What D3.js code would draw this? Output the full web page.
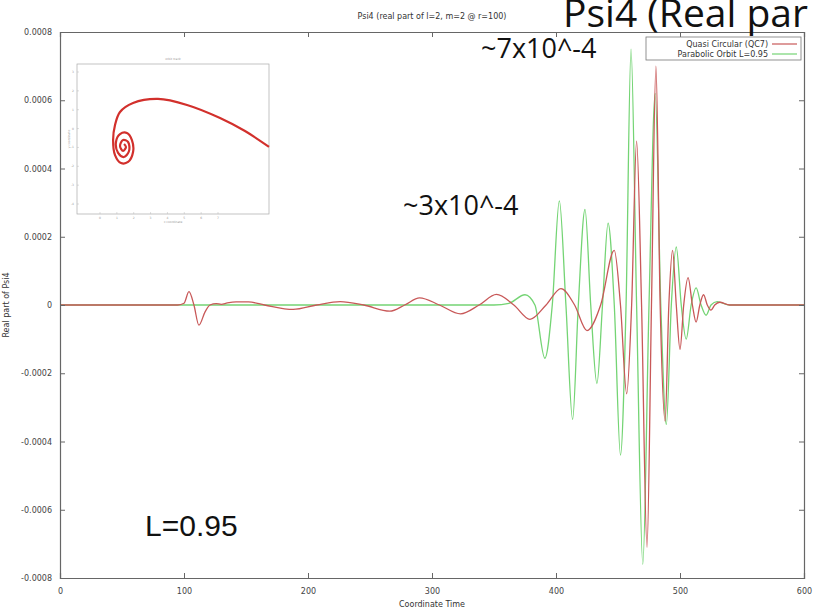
<!DOCTYPE html>
<html>
<head>
<meta charset="utf-8">
<script src="https://cdn.jsdelivr.net/npm/d3@7"></script>
<style>
  body { margin: 0; background: #fff; }
  text { font-family: "DejaVu Sans", sans-serif; }
</style>
</head>
<body>
<div id="chart"></div>
<script>
// ticks
var xTicks = [0, 100, 200, 300, 400, 500, 600];
var yTicks = [-0.0008, -0.0006, -0.0004, -0.0002, 0, 0.0002, 0.0004, 0.0006, 0.0008];

// Quasi Circular (QC7) - extrema and zero crossings
var redT = [0, 95, 100, 104, 108, 112, 117, 121, 126, 130, 135, 142, 152, 165, 188, 207, 226, 245, 266, 278, 290, 306, 323, 338, 352, 366, 379, 392, 404, 415, 425, 436, 447, 452, 457, 461, 465, 469, 473.4, 477, 480.6, 484, 488, 491, 494, 497, 500, 503, 506.5, 510, 513, 516, 519, 522, 525, 528, 532, 540, 600];
var redV = [0, 0, 0.000005, 0.000039, 0, -0.000059, -0.00002, 0, 0.000004, 0.000002, 0.000006, 0.000009, 0.000009, 0, -0.000013, 0, 0.00001, 0, -0.000018, 0, 0.000021, 0, -0.000026, 0, 0.000031, 0, -0.000042, 0, 0.000048, 0, -0.000075, 0, 0.00016, 0, -0.00026, 0, 0.00048, 0, -0.00071, 0, 0.0007, 0, -0.00034, 0, 0.00016, 0, -0.00013, 0, 0.00008, 0, -0.00005, 0, 0.00003, 0, -0.000015, 0, 0.000008, 0, 0];

// Parabolic Orbit L=0.95
var greenT = [0, 350, 362, 375, 383, 391, 397, 402.7, 408, 413.4, 418, 423.4, 428, 433, 437.5, 442, 447, 452, 456.5, 460.5, 465, 470, 475, 480, 484.5, 489, 493, 497, 501, 505, 509, 513, 517, 521, 525, 530, 540, 600];
var greenV = [0, 0, 0.000005, 0.00003, 0, -0.000156, 0, 0.000305, 0, -0.000335, 0, 0.00028, 0, -0.00023, 0, 0.00024, 0, -0.00044, 0, 0.00075, 0, -0.00076, 0, 0.00062, 0, -0.00035, 0, 0.00017, 0, -0.0001, 0, 0.00005, 0, -0.00003, 0, 0.00001, 0, 0];

// inset: orbit track (arbitrary units 0..100)
var orbitX = [100, 87.5, 74.5, 57.3, 42.2, 29.2, 22.4, 19.8, 18.8, 19.8, 22.9, 26.6, 29.2, 28.6, 26, 22.4, 20.3, 21.4, 24.5, 27.1, 26.6, 24, 22.4, 24, 25.5, 24.5];
var orbitY = [44.7, 55.3, 64, 72.7, 76.7, 74, 68, 59.3, 49.3, 39.3, 34, 34.7, 41.3, 49.3, 54, 53.3, 48, 40.7, 38, 42, 48, 49.3, 45.3, 42, 44.7, 46.7];
var insetTicksX = [0, 1, 2, 3, 4, 5, 6, 7];
var insetTicksY = [-4, -3, -2, -1, 0, 1, 2, 3];

var series = [
    { name: 'Quasi Circular (QC7)', t: redT, v: redV, color: '#c85858' },
    { name: 'Parabolic Orbit L=0.95', t: greenT, v: greenV, color: '#74d474' }
];

var W = 817, H = 612;
var pad = { left: 60, right: 13, top: 32, bottom: 34 };

var svg = d3.select('#chart').append('svg')
    .attr('width', W)
    .attr('height', H);

var x = d3.scaleLinear().domain([0, 600]).range([pad.left, W - pad.right]);
var y = d3.scaleLinear().domain([-0.0008, 0.0008]).range([H - pad.bottom, pad.top]);

var fmtY = function (d) { return d === 0 ? '0' : d.toFixed(4); };

// curves
var line = d3.line()
    .x(function (d) { return x(d[0]); })
    .y(function (d) { return y(d[1]); })
    .curve(d3.curveMonotoneX);

// green first so the red sits on top
[series[1], series[0]].forEach(function (s) {
    var pts = s.t.map(function (t, i) { return [t, s.v[i]]; });
    svg.append('path')
        .datum(pts)
        .attr('fill', 'none')
        .attr('stroke', s.color)
        .attr('stroke-width', 1.3)
        .attr('d', line);
});

// axes, ticks drawn inward like gnuplot
var axisCol = '#666';
var gx = svg.append('g').attr('transform', 'translate(0,' + (H - pad.bottom) + ')')
    .call(d3.axisBottom(x).tickValues(xTicks).tickSize(-5).tickPadding(10));
var gxt = svg.append('g').attr('transform', 'translate(0,' + pad.top + ')')
    .call(d3.axisTop(x).tickValues(xTicks).tickSize(-5).tickFormat(''));
var gy = svg.append('g').attr('transform', 'translate(' + pad.left + ',0)')
    .call(d3.axisLeft(y).tickValues(yTicks).tickSize(-5).tickPadding(8).tickFormat(fmtY));
var gyr = svg.append('g').attr('transform', 'translate(' + (W - pad.right) + ',0)')
    .call(d3.axisRight(y).tickValues(yTicks).tickSize(-5).tickFormat(''));

[gx, gxt, gy, gyr].forEach(function (g) {
    g.select('.domain').attr('stroke', axisCol).attr('stroke-width', 1.2);
    g.selectAll('.tick line').attr('stroke', axisCol);
    g.selectAll('.tick text')
        .attr('fill', '#444')
        .style('font-family', '"DejaVu Sans", sans-serif')
        .style('font-size', '8px');
});

// titles
svg.append('text')
    .attr('x', (x(0) + x(600)) / 2)
    .attr('y', 19)
    .attr('text-anchor', 'middle')
    .attr('fill', '#333')
    .style('font-size', '8px')
    .text('Psi4 (real part of l=2, m=2 @ r=100)');

svg.append('text')
    .attr('x', (x(0) + x(600)) / 2)
    .attr('y', 607)
    .attr('text-anchor', 'middle')
    .attr('fill', '#333')
    .style('font-size', '8px')
    .text('Coordinate Time');

svg.append('text')
    .attr('transform', 'translate(9,' + y(0) + ') rotate(-90)')
    .attr('text-anchor', 'middle')
    .attr('fill', '#333')
    .style('font-size', '8px')
    .text('Real part of Psi4');

// legend
var lg = svg.append('g');
lg.append('rect')
    .attr('x', 646).attr('y', 37).attr('width', 155).attr('height', 23)
    .attr('fill', '#fff').attr('stroke', '#777').attr('stroke-width', 0.8);
series.forEach(function (s, i) {
    var ly = 44 + i * 10;
    lg.append('text')
        .attr('x', 768).attr('y', ly)
        .attr('dy', '0.35em')
        .attr('text-anchor', 'end')
        .attr('fill', '#333')
        .style('font-size', '8px')
        .text(s.name);
    lg.append('line')
        .attr('x1', 772).attr('x2', 797)
        .attr('y1', ly).attr('y2', ly)
        .attr('stroke', s.color).attr('stroke-width', 1.2);
});

// inset orbit plot
var ix = d3.scaleLinear().domain([0, 100]).range([77, 269]);
var iy = d3.scaleLinear().domain([0, 100]).range([214, 64]);
var inset = svg.append('g');
inset.append('rect')
    .attr('x', 77).attr('y', 64).attr('width', 192).attr('height', 150)
    .attr('fill', '#fff').attr('stroke', '#aaa').attr('stroke-width', 0.7);
inset.append('text')
    .attr('x', 173).attr('y', 60).attr('text-anchor', 'middle')
    .attr('fill', '#999').style('font-size', '3px')
    .text('orbit track');
var isx = d3.scaleLinear().domain([0, 7]).range([100, 218]);
var isy = d3.scaleLinear().domain([-4, 3]).range([204, 72]);
insetTicksX.forEach(function (d) {
    inset.append('text')
        .attr('x', isx(d)).attr('y', 219).attr('text-anchor', 'middle')
        .attr('fill', '#999').style('font-size', '3px').text(d);
    inset.append('line')
        .attr('x1', isx(d)).attr('x2', isx(d)).attr('y1', 214).attr('y2', 212)
        .attr('stroke', '#bbb').attr('stroke-width', 0.5);
});
insetTicksY.forEach(function (d) {
    inset.append('text')
        .attr('x', 74).attr('y', isy(d) + 1).attr('text-anchor', 'end')
        .attr('fill', '#999').style('font-size', '3px').text(d);
    inset.append('line')
        .attr('x1', 77).attr('x2', 79).attr('y1', isy(d)).attr('y2', isy(d))
        .attr('stroke', '#bbb').attr('stroke-width', 0.5);
});
inset.append('text')
    .attr('transform', 'translate(70,139) rotate(-90)')
    .attr('text-anchor', 'middle')
    .attr('fill', '#999').style('font-size', '3px')
    .text('y coordinate');
inset.append('text')
    .attr('x', 173).attr('y', 223).attr('text-anchor', 'middle')
    .attr('fill', '#999').style('font-size', '3px')
    .text('x coordinate');

var orbitLine = d3.line()
    .x(function (d) { return ix(d[0]); })
    .y(function (d) { return iy(d[1]); })
    .curve(d3.curveCatmullRom.alpha(0.5));
inset.append('path')
    .datum(orbitX.map(function (v, i) { return [v, orbitY[i]]; }))
    .attr('fill', 'none')
    .attr('stroke', '#d2302c')
    .attr('stroke-width', 2.2)
    .attr('d', orbitLine);

// hand-written annotations on top of the plot
svg.append('text')
    .attr('x', 563).attr('y', 27)
    .style('font-family', '"Open Sans", sans-serif')
    .style('font-size', '39px')
    .attr('fill', '#111')
    .text('Psi4 (Real par');

svg.append('text')
    .attr('x', 481).attr('y', 58)
    .style('font-family', '"Open Sans", sans-serif')
    .style('font-size', '27px')
    .attr('fill', '#111')
    .text('~7x10^-4');

svg.append('text')
    .attr('x', 403).attr('y', 215)
    .style('font-family', '"Open Sans", sans-serif')
    .style('font-size', '27px')
    .attr('fill', '#111')
    .text('~3x10^-4');

svg.append('text')
    .attr('x', 145).attr('y', 536)
    .style('font-family', '"Liberation Sans", Arial, sans-serif')
    .style('font-size', '30px')
    .attr('fill', '#111')
    .text('L=0.95');
</script>
</body>
</html>
